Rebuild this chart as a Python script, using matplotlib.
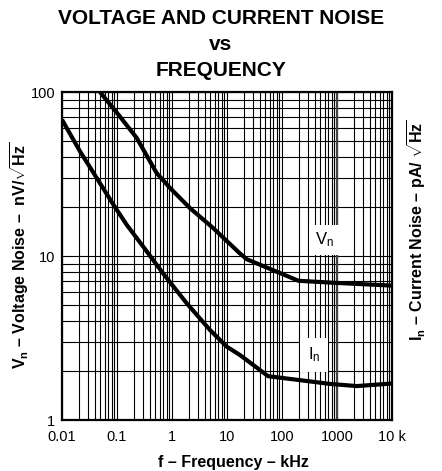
import matplotlib
matplotlib.use('Agg')
import matplotlib.pyplot as plt
from matplotlib.ticker import LogLocator, FixedLocator, NullFormatter

# values
vn_freq = [0.049, 0.106, 0.228, 0.527, 0.92, 2.12, 5.6, 17, 23, 200, 1000, 10000]
vn_noise = [100, 72.8, 52.5, 32, 26, 19.6, 14.8, 10.4, 9.55, 7.06, 6.85, 6.6]

in_freq = [0.01, 0.0212, 0.0428, 0.0857, 0.15, 0.3, 0.695, 1.85, 4.9, 9.9, 17.2, 56, 740, 2300, 10000]
in_noise = [67.8, 43.5, 29.9, 20.6, 15.5, 11.4, 7.8, 5.15, 3.54, 2.8, 2.49, 1.85, 1.66, 1.61, 1.67]

x_ticks = [0.01, 0.1, 1, 10, 100, 1000, 10000]
x_labels = ['0.01', '0.1', '1', '10', '100', '1000', '10 k']
y_ticks = [1, 10, 100]
y_labels = ['1', '10', '100']


def noise_plot():
    plt.rcParams['font.family'] = ['Liberation Sans', 'DejaVu Sans']
    plt.rcParams['mathtext.fontset'] = 'custom'
    plt.rcParams['mathtext.rm'] = 'Liberation Sans'
    plt.rcParams['mathtext.bf'] = 'Liberation Sans:bold'
    plt.rcParams['mathtext.it'] = 'Liberation Sans:italic'

    fig = plt.figure(figsize=(4.42, 4.71), dpi=100)
    ax = fig.add_axes([62 / 442, 51 / 471, 330 / 442, 328 / 471])
    ax.set_xscale('log')
    ax.set_yscale('log')
    ax.set_xlim(0.01, 10000)
    ax.set_ylim(1, 100)

    ax.xaxis.set_major_locator(FixedLocator(x_ticks))
    ax.set_xticklabels(x_labels, fontsize=10.5)
    ax.yaxis.set_major_locator(FixedLocator(y_ticks))
    ax.set_yticklabels(y_labels, fontsize=10.5)
    ax.xaxis.set_minor_locator(LogLocator(base=10, subs=range(2, 10), numticks=20))
    ax.yaxis.set_minor_locator(LogLocator(base=10, subs=range(2, 10), numticks=20))
    ax.xaxis.set_minor_formatter(NullFormatter())
    ax.yaxis.set_minor_formatter(NullFormatter())
    ax.tick_params(which='both', length=0)
    ax.tick_params(axis='x', pad=7)
    ax.tick_params(axis='y', pad=5)
    ax.grid(which='both', color='black', lw=0.8)
    ax.axvline(1000, color='#444444', lw=1.6, zorder=1.6)
    for s in ax.spines.values():
        s.set_linewidth(1.6)

    ax.plot(vn_freq, vn_noise, color='black', lw=3, solid_capstyle='butt')
    ax.plot(in_freq, in_noise, color='black', lw=3, solid_capstyle='butt')

    ax.text(580, 12.5, r'V$_\mathregular{n}$', fontsize=12, ha='center', va='center',
            bbox=dict(facecolor='white', edgecolor='none', boxstyle='square,pad=0.35'), zorder=3)
    ax.text(380, 2.5, r'I$_\mathregular{n}$', fontsize=12, ha='center', va='center',
            bbox=dict(facecolor='white', edgecolor='none', boxstyle='square,pad=0.45'), zorder=3)

    fig.text(221 / 442, 1 - 18 / 471, 'VOLTAGE AND CURRENT NOISE', fontsize=15,
             fontweight='bold', ha='center', va='center')
    fig.text(221 / 442, 1 - 44 / 471, 'vs', fontsize=15,
             fontweight='bold', ha='center', va='center')
    fig.text(221 / 442, 1 - 70 / 471, 'FREQUENCY', fontsize=15,
             fontweight='bold', ha='center', va='center')

    fig.text(233 / 442, 1 - 462 / 471, 'f – Frequency – kHz', fontsize=11.5,
             fontweight='bold', ha='center', va='center')
    fig.text(20 / 442, 1 - 255 / 471,
             r'$\mathbf{V_n}$ – Voltage Noise –  nV/$\mathbf{\sqrt{Hz}}$',
             fontsize=11.5, fontweight='bold', rotation=90, ha='center', va='center')
    fig.text(417 / 442, 1 - 230 / 471,
             r'$\mathbf{I_n}$ – Current Noise – pA/ $\mathbf{\sqrt{Hz}}$',
             fontsize=11.5, fontweight='bold', rotation=90, ha='center', va='center')

    fig.savefig('out.png', dpi=100)


def main():
    noise_plot()


if __name__ == "__main__":
    main()
